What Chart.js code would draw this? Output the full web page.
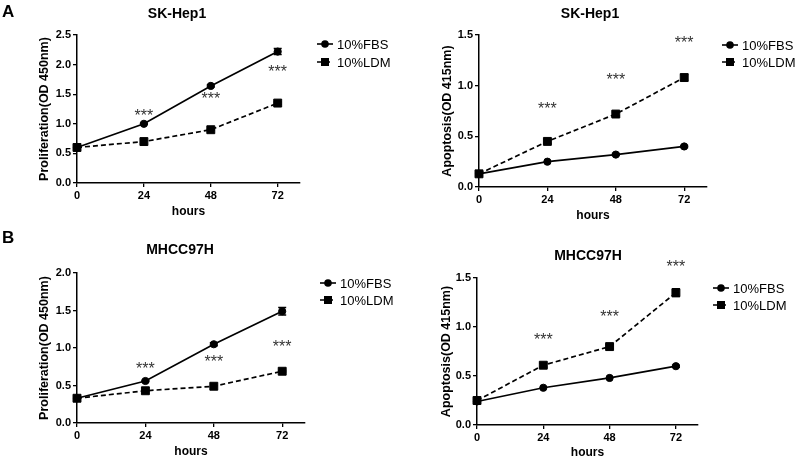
<!DOCTYPE html>
<html>
<head>
<meta charset="utf-8">
<script src="https://cdn.jsdelivr.net/npm/chart.js@4"></script>
<style>
  body { margin: 0; background: #fff; width: 800px; height: 459px; overflow: hidden; position: relative; }
  canvas { position: absolute; }
</style>
</head>
<body>
<canvas id="c1" width="400" height="230" style="left:0;top:0"></canvas>
<canvas id="c2" width="400" height="230" style="left:400px;top:0"></canvas>
<canvas id="c3" width="400" height="229" style="left:0;top:230px"></canvas>
<canvas id="c4" width="400" height="229" style="left:400px;top:230px"></canvas>
<script>
const FONT = "'Liberation Sans', Arial, sans-serif";

// shared x values
const hours = [0, 24, 48, 72];
const xTicks = [0, 24, 48, 72];
const starHours = [24, 48, 72];
const seriesNames = ['10%FBS', '10%LDM'];

// A, SK-Hep1 proliferation
const hepProlifFBS = [0.60, 1.00, 1.64, 2.22];
const hepProlifLDM = [0.60, 0.70, 0.90, 1.35];
const hepProlifFBSErr = [0, 0.01, 0.02, 0.05];
const hepProlifLDMErr = [0, 0, 0.01, 0.02];
const hepProlifStars = [1.20, 1.49, 1.94];
const hepProlifTicks = [0, 0.5, 1.0, 1.5, 2.0, 2.5];

// A, SK-Hep1 apoptosis
const hepApopFBS = [0.13, 0.25, 0.32, 0.40];
const hepApopLDM = [0.13, 0.45, 0.72, 1.08];
const hepApopFBSErr = [0, 0, 0.01, 0.01];
const hepApopLDMErr = [0, 0.02, 0.02, 0.03];
const hepApopStars = [0.81, 1.10, 1.46];
const hepApopTicks = [0, 0.5, 1.0, 1.5];

// B, MHCC97H proliferation
const mhccProlifFBS = [0.33, 0.56, 1.05, 1.49];
const mhccProlifLDM = [0.33, 0.43, 0.49, 0.69];
const mhccProlifFBSErr = [0, 0.01, 0.02, 0.05];
const mhccProlifLDMErr = [0, 0, 0, 0.01];
const mhccProlifStars = [0.77, 0.87, 1.07];
const mhccProlifTicks = [0, 0.5, 1.0, 1.5, 2.0];

// B, MHCC97H apoptosis
const mhccApopFBS = [0.24, 0.38, 0.48, 0.60];
const mhccApopLDM = [0.25, 0.61, 0.80, 1.35];
const mhccApopFBSErr = [0, 0, 0, 0.01];
const mhccApopLDMErr = [0, 0.02, 0.02, 0.04];
const mhccApopStars = [0.91, 1.14, 1.65];
const mhccApopTicks = [0, 0.5, 1.0, 1.5];

const panels = [
  { id: 'c1', letter: 'A', title: 'SK-Hep1', yLabel: 'Proliferation(OD 450nm)',
    fbs: hepProlifFBS, ldm: hepProlifLDM, fbsErr: hepProlifFBSErr, ldmErr: hepProlifLDMErr,
    stars: hepProlifStars, yTicks: hepProlifTicks,
    area: { left: 77, right: 300, top: 35, bottom: 183 },
    titleXY: [177, 14], legendX: 317, legendY: [44, 62], yLabelX: 45, xLabelY: 212 },
  { id: 'c2', letter: '', title: 'SK-Hep1', yLabel: 'Apoptosis(OD 415nm)',
    fbs: hepApopFBS, ldm: hepApopLDM, fbsErr: hepApopFBSErr, ldmErr: hepApopLDMErr,
    stars: hepApopStars, yTicks: hepApopTicks,
    area: { left: 79, right: 307, top: 35, bottom: 187 },
    titleXY: [190, 14], legendX: 322, legendY: [45, 62], yLabelX: 48, xLabelY: 216 },
  { id: 'c3', letter: 'B', title: 'MHCC97H', yLabel: 'Proliferation(OD 450nm)',
    fbs: mhccProlifFBS, ldm: mhccProlifLDM, fbsErr: mhccProlifFBSErr, ldmErr: mhccProlifLDMErr,
    stars: mhccProlifStars, yTicks: mhccProlifTicks,
    area: { left: 77, right: 305, top: 43, bottom: 193 },
    titleXY: [180, 20], legendX: 320, legendY: [53, 70], yLabelX: 45, xLabelY: 222 },
  { id: 'c4', letter: '', title: 'MHCC97H', yLabel: 'Apoptosis(OD 415nm)',
    fbs: mhccApopFBS, ldm: mhccApopLDM, fbsErr: mhccApopFBSErr, ldmErr: mhccApopLDMErr,
    stars: mhccApopStars, yTicks: mhccApopTicks,
    area: { left: 77, right: 298, top: 48, bottom: 195 },
    titleXY: [188, 26], legendX: 313, legendY: [58, 75], yLabelX: 47, xLabelY: 223 }
];

// letter, title, legend, stars, error bars
const overlay = {
  id: 'overlay',
  afterDatasetsDraw(chart) {
    const p = chart.options.panel;
    const ctx = chart.ctx;
    const xs = chart.scales.x, ys = chart.scales.y;
    ctx.save();
    ctx.fillStyle = '#000';
    ctx.strokeStyle = '#000';

    // error bars
    chart.data.datasets.forEach(ds => {
      ds.errors.forEach((e, i) => {
        if (!e) return;
        const x = xs.getPixelForValue(hours[i]);
        const y1 = ys.getPixelForValue(ds.data[i].y + e);
        const y2 = ys.getPixelForValue(ds.data[i].y - e);
        ctx.lineWidth = 1.5;
        ctx.setLineDash([]);
        ctx.beginPath();
        ctx.moveTo(x, y1); ctx.lineTo(x, y2);
        ctx.moveTo(x - 4, y1); ctx.lineTo(x + 4, y1);
        ctx.moveTo(x - 4, y2); ctx.lineTo(x + 4, y2);
        ctx.stroke();
      });
    });

    // significance stars
    ctx.fillStyle = '#333';
    ctx.font = '16px ' + FONT;
    ctx.textAlign = 'center';
    ctx.textBaseline = 'alphabetic';
    p.stars.forEach((v, i) => {
      ctx.fillText('***', xs.getPixelForValue(starHours[i]), ys.getPixelForValue(v) + 9);
    });

    // panel letter
    ctx.fillStyle = '#000';
    if (p.letter) {
      ctx.font = 'bold 17px ' + FONT;
      ctx.textAlign = 'left';
      ctx.textBaseline = 'middle';
      ctx.fillText(p.letter, 2, p.letter === 'A' ? 12 : 8);
    }

    // title
    ctx.font = 'bold 14px ' + FONT;
    ctx.textAlign = 'center';
    ctx.textBaseline = 'middle';
    ctx.fillText(p.title, p.titleXY[0], p.titleXY[1]);

    // legend
    ctx.font = '13px ' + FONT;
    ctx.textAlign = 'left';
    chart.data.datasets.forEach((ds, i) => {
      const lx = p.legendX, ly = p.legendY[i];
      ctx.lineWidth = 1.6;
      ctx.setLineDash(ds.borderDash || []);
      ctx.beginPath();
      ctx.moveTo(lx, ly); ctx.lineTo(lx + 16, ly);
      ctx.stroke();
      ctx.setLineDash([]);
      if (ds.pointStyle === 'rect') {
        ctx.fillRect(lx + 4, ly - 4, 8, 8);
      } else {
        ctx.beginPath();
        ctx.arc(lx + 8, ly, 3.8, 0, Math.PI * 2);
        ctx.fill();
      }
      ctx.fillText(ds.label, lx + 20, ly + 1);
    });
    ctx.restore();
  }
};

function makeChart(p) {
  const cv = document.getElementById(p.id);
  const H = cv.height, W = cv.width;
  const tickFont = { family: FONT, size: 11, weight: 'bold' };
  const xLabelFont = { family: FONT, size: 12, weight: 'bold' };
  const yLabelFont = { family: FONT, size: 12.5, weight: 'bold' };
  const common = {
    borderColor: '#000', backgroundColor: '#000',
    pointBackgroundColor: '#000', pointBorderColor: '#000',
    borderWidth: 1.7, pointBorderWidth: 1, clip: false, tension: 0
  };
  return new Chart(cv, {
    type: 'line',
    data: {
      datasets: [
        Object.assign({}, common, {
          label: seriesNames[0],
          data: hours.map((h, i) => ({ x: h, y: p.fbs[i] })),
          errors: p.fbsErr, pointStyle: 'circle', pointRadius: 3.6
        }),
        Object.assign({}, common, {
          label: seriesNames[1],
          data: hours.map((h, i) => ({ x: h, y: p.ldm[i] })),
          errors: p.ldmErr, pointStyle: 'rect', pointRadius: 5.6, borderDash: [5, 3]
        })
      ]
    },
    options: {
      panel: p,
      responsive: false,
      animation: false,
      events: [],
      layout: { padding: { left: 0, top: p.area.top, right: W - p.area.right, bottom: 0 } },
      plugins: { legend: { display: false }, title: { display: false }, tooltip: { enabled: false } },
      scales: {
        x: {
          type: 'linear', min: 0, max: 80,
          afterBuildTicks: s => { s.ticks = xTicks.map(v => ({ value: v })); },
          afterFit: s => { s.height = H - p.area.bottom; },
          grid: { drawOnChartArea: false, color: '#000', tickLength: 4, lineWidth: 1.3 },
          border: { color: '#000', width: 1.5 },
          ticks: { color: '#000', font: tickFont, padding: 2, maxRotation: 0 },
          title: { display: true, text: 'hours', color: '#000', font: xLabelFont,
                   padding: { top: 0, bottom: H - p.xLabelY - 12 * 0.6 } }
        },
        y: {
          type: 'linear', min: 0, max: p.yTicks[p.yTicks.length - 1],
          afterBuildTicks: s => { s.ticks = p.yTicks.map(v => ({ value: v })); },
          afterFit: s => { s.width = p.area.left; },
          grid: { drawOnChartArea: false, color: '#000', tickLength: 4, lineWidth: 1.3 },
          border: { color: '#000', width: 1.5 },
          ticks: { color: '#000', font: tickFont, padding: 2, callback: v => v.toFixed(1) },
          title: { display: true, text: p.yLabel, color: '#000', font: yLabelFont,
                   padding: { top: p.yLabelX - 12.5 * 0.6, bottom: 0 } }
        }
      }
    },
    plugins: [overlay]
  });
}

panels.forEach(makeChart);
</script>
</body>
</html>
